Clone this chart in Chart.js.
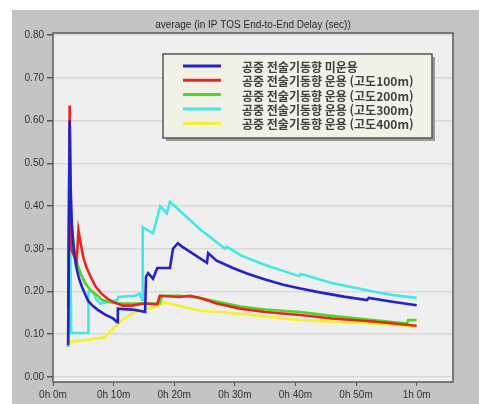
<!DOCTYPE html>
<html lang="ko">
<head>
<meta charset="UTF-8">
<title>average (in IP TOS End-to-End Delay (sec))</title>
<script src="https://cdn.jsdelivr.net/npm/chart.js@4.4.2/dist/chart.umd.min.js"></script>
<style>
    body { margin: 0; background: #fff; }
    canvas { display: block; }
</style>
</head>
<body>
<canvas id="chart" width="479" height="404"></canvas>
<script>
    // time in minutes, delay in seconds
    const chartTitle = 'average (in IP TOS End-to-End Delay (sec))';
    const seriesLabels = [
        '공중 전술기동향 미운용',
        '공중 전술기동향 운용 (고도100m)',
        '공중 전술기동향 운용 (고도200m)',
        '공중 전술기동향 운용 (고도300m)',
        '공중 전술기동향 운용 (고도400m)'
    ];
    const seriesColors = ['#2323c8', '#e8261e', '#4cd626', '#45e6e6', '#f4f22a'];

    const blueT = [2.5, 2.75, 2.9, 3.1, 3.4, 3.8, 4.3, 4.8, 5.8, 6.6, 7.4, 8.6, 9.9, 10.6, 10.7, 13.5, 15.2, 15.35, 15.7, 16.5, 17.2, 19.3, 19.8, 20.6, 21.3, 25.4, 25.6, 27.0, 29.7, 32, 35, 38, 40.8, 44, 48, 51.8, 52.1, 56, 60];
    const blueV = [0.075, 0.60, 0.45, 0.36, 0.30, 0.26, 0.23, 0.21, 0.178, 0.166, 0.157, 0.146, 0.137, 0.128, 0.16, 0.157, 0.152, 0.235, 0.243, 0.23, 0.255, 0.255, 0.30, 0.313, 0.305, 0.267, 0.29, 0.272, 0.255, 0.242, 0.228, 0.216, 0.207, 0.198, 0.188, 0.18, 0.185, 0.176, 0.168];

    const redT = [2.5, 2.75, 2.95, 3.9, 4.2, 4.6, 5.0, 5.5, 6.2, 7.0, 8.0, 9.0, 10.0, 11.5, 13.0, 14.9, 17.2, 17.6, 20.9, 22.6, 24.3, 27.0, 30.9, 35, 40.8, 46, 52.8, 60];
    const redV = [0.16, 0.635, 0.30, 0.27, 0.343, 0.31, 0.28, 0.257, 0.235, 0.212, 0.195, 0.183, 0.175, 0.167, 0.167, 0.172, 0.170, 0.19, 0.187, 0.19, 0.185, 0.172, 0.16, 0.152, 0.145, 0.137, 0.13, 0.12];

    const greenT = [2.5, 2.75, 3.0, 3.5, 4.0, 4.6, 5.3, 6.2, 7.4, 8.1, 9.4, 11.1, 17.6, 18.0, 20.9, 24.3, 30.9, 35, 40.8, 46, 52.8, 58.4, 58.6, 60];
    const greenV = [0.07, 0.45, 0.36, 0.30, 0.265, 0.24, 0.22, 0.203, 0.19, 0.18, 0.175, 0.172, 0.172, 0.19, 0.19, 0.185, 0.165, 0.158, 0.152, 0.143, 0.133, 0.125, 0.133, 0.133];

    const cyanT = [2.5, 2.75, 3.0, 5.8, 5.85, 6.6, 7.2, 7.8, 10.6, 10.8, 13.5, 14.3, 14.7, 14.8, 16.5, 17.7, 18.8, 19.3, 24.3, 28.4, 28.7, 30.9, 35, 40.6, 40.9, 46, 52.8, 56, 60];
    const cyanV = [0.10, 0.45, 0.103, 0.103, 0.20, 0.20, 0.18, 0.172, 0.18, 0.187, 0.19, 0.195, 0.18, 0.35, 0.336, 0.40, 0.383, 0.41, 0.345, 0.30, 0.305, 0.285, 0.262, 0.236, 0.241, 0.22, 0.20, 0.192, 0.185];

    const yellowT = [2.5, 5.8, 8.6, 9.7, 11.4, 13.5, 17.2, 18.2, 24.3, 30.9, 40.8, 52.8, 60];
    const yellowV = [0.082, 0.087, 0.093, 0.11, 0.133, 0.152, 0.165, 0.175, 0.155, 0.148, 0.133, 0.125, 0.118];

    const yTicks = [0, 0.1, 0.2, 0.3, 0.4, 0.5, 0.6, 0.7, 0.8];
    const xTicks = [0, 10, 20, 30, 40, 50, 60];
    const xTickLabels = ['0h 0m', '0h 10m', '0h 20m', '0h 30m', '0h 40m', '0h 50m', '1h 0m'];

    const allT = [blueT, redT, greenT, cyanT, yellowT];
    const allV = [blueV, redV, greenV, cyanV, yellowV];

    const datasets = seriesLabels.map((label, i) => ({
        label: label,
        data: allT[i].map((t, j) => ({ x: t, y: allV[i][j] })),
        borderColor: seriesColors[i],
        borderWidth: 2.6,
        pointRadius: 0,
        tension: 0,
        fill: false
    }));

    const panelPlugin = {
        id: 'panel',
        beforeDraw(chart) {
            const ctx = chart.ctx;
            const a = chart.chartArea;
            ctx.save();
            ctx.fillStyle = '#ffffff';
            ctx.fillRect(0, 0, chart.width, chart.height);
            ctx.fillStyle = '#c4c4c4';
            ctx.fillRect(12, 10, chart.width - 12, chart.height - 10);
            ctx.fillStyle = '#efefef';
            ctx.fillRect(a.left, a.top, a.right - a.left, a.bottom - a.top);
            ctx.fillStyle = '#2a2a2a';
            ctx.font = '10px "Liberation Sans"';
            ctx.textAlign = 'center';
            ctx.textBaseline = 'middle';
            ctx.fillText(chartTitle, (a.left + a.right) / 2, 25);
            ctx.restore();
        },
        afterDraw(chart) {
            const ctx = chart.ctx;
            const a = chart.chartArea;
            ctx.save();
            ctx.strokeStyle = '#5a5a5a';
            ctx.lineWidth = 1.5;
            ctx.strokeRect(a.left, a.top, a.right - a.left, a.bottom - a.top);

            // legend box
            const bx = 163, by = 54, bw = 269, bh = 84;
            ctx.fillStyle = '#9a9a9a';
            ctx.fillRect(bx + 3, by + 3, bw, bh);
            ctx.fillStyle = '#f2f1e6';
            ctx.fillRect(bx, by, bw, bh);
            ctx.strokeStyle = '#555';
            ctx.lineWidth = 1.5;
            ctx.strokeRect(bx, by, bw, bh);
            ctx.font = 'bold 12px "Noto Sans CJK KR"';
            ctx.textBaseline = 'middle';
            ctx.textAlign = 'left';
            seriesLabels.forEach((label, i) => {
                const y = 66 + i * 14.3;
                ctx.strokeStyle = seriesColors[i];
                ctx.lineWidth = 3;
                ctx.beginPath();
                ctx.moveTo(183, y);
                ctx.lineTo(221, y);
                ctx.stroke();
                ctx.fillStyle = '#404040';
                ctx.fillText(label, 242, y + 1.5);
            });
            ctx.restore();
        }
    };

    new Chart(document.getElementById('chart'), {
        type: 'line',
        data: { datasets: datasets },
        options: {
            responsive: false,
            animation: false,
            layout: { padding: { left: 0, right: 26, top: 33, bottom: 0 } },
            plugins: {
                legend: { display: false },
                tooltip: { enabled: false },
                title: { display: false }
            },
            scales: {
                x: {
                    type: 'linear',
                    min: 0,
                    max: 66,
                    afterFit(s) { s.height = 22; },
                    afterBuildTicks(s) { s.ticks = xTicks.map(v => ({ value: v })); },
                    ticks: {
                        color: '#333',
                        font: { family: 'Liberation Sans', size: 10 },
                        padding: 3,
                        maxRotation: 0,
                        callback: (v) => xTickLabels[xTicks.indexOf(v)]
                    },
                    grid: { drawOnChartArea: false, tickColor: '#555', tickLength: 4 },
                    border: { display: false }
                },
                y: {
                    type: 'linear',
                    min: -0.0117,
                    max: 0.8047,
                    afterFit(s) { s.width = 53; },
                    afterBuildTicks(s) { s.ticks = yTicks.map(v => ({ value: v })); },
                    ticks: {
                        color: '#333',
                        font: { family: 'Liberation Sans', size: 10 },
                        padding: 3,
                        callback: (v) => v.toFixed(2)
                    },
                    grid: { color: '#d9d9d9', lineWidth: 1.5, tickColor: '#555', tickLength: 6 },
                    border: { display: false }
                }
            }
        },
        plugins: [panelPlugin]
    });
</script>
</body>
</html>
